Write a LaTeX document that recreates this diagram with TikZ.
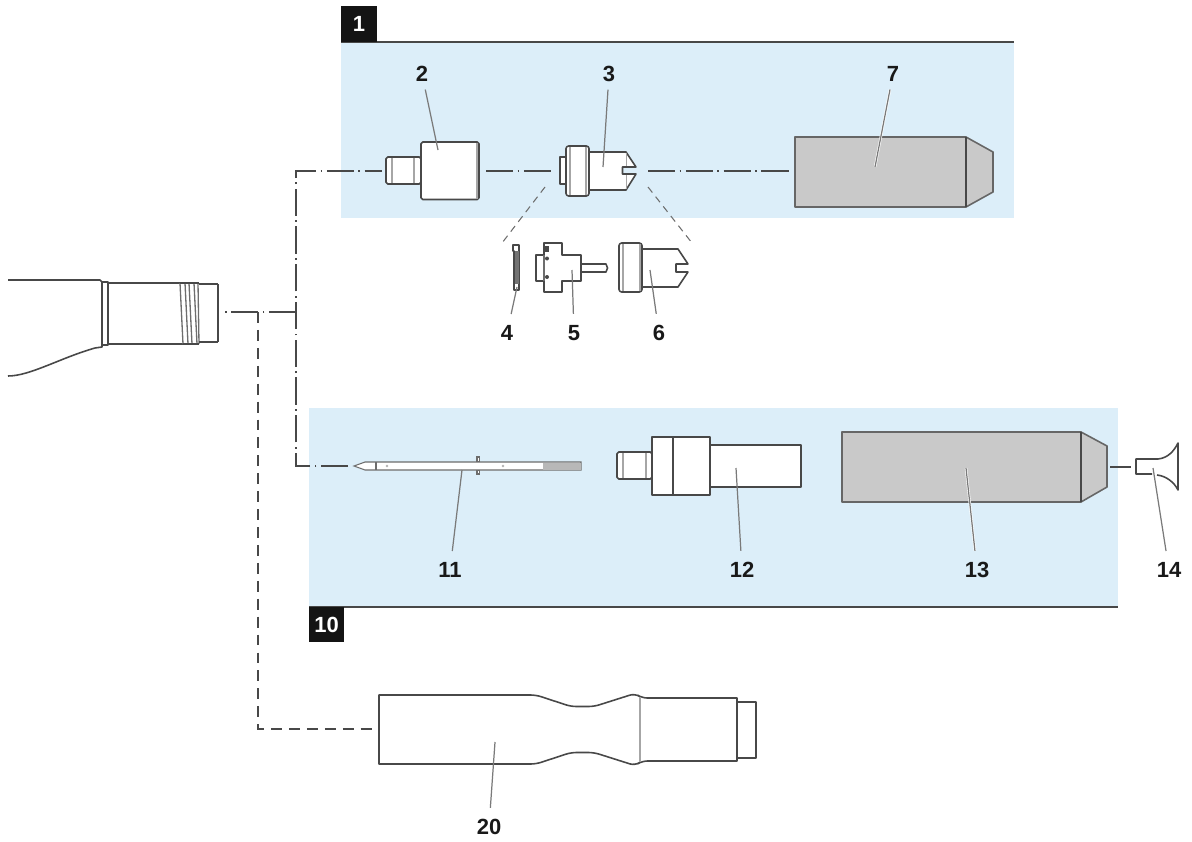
\documentclass[tikz,border=0pt]{standalone}
\usepackage{fontspec}
\setmainfont{Liberation Sans}
\usetikzlibrary{calc,positioning}
\definecolor{panelblue}{HTML}{DCEEF9}
\definecolor{partgray}{HTML}{C9C9C9}
\definecolor{inkgray}{HTML}{484848}
\definecolor{leadgray}{HTML}{7A7A7A}
\tikzset{
	part/.style={draw=inkgray,line width=0.9pt,line join=round},
	grey part/.style={draw=black!60,line width=0.9pt,fill=partgray,line join=round},
	thin part/.style={draw=inkgray!80,line width=0.6pt},
	inner/.style={draw=black!35,line width=0.85pt},
	lab/.style={font=\fontsize{12.5}{14}\selectfont\bfseries,inner sep=1pt,outer sep=5.5pt,text=black!90},
	lab top/.style={lab,outer sep=3.5pt},
	tag/.style={fill=black!92,text=white,font=\fontsize{12.5}{14}\selectfont\bfseries,inner sep=0pt},
	axis/.style={draw=inkgray,line width=0.85pt,dash pattern=on 15.5pt off 2.5pt on 1pt off 2.5pt},
	hidden/.style={draw=inkgray,line width=0.85pt,dash pattern=on 6.2pt off 4pt},
	guide/.style={draw=inkgray!80,line width=0.6pt,dash pattern=on 4pt off 3pt},
	lead/.style={draw=leadgray,line width=0.7pt},
	lead halo/.style={lead,preaction={draw=white,line width=1.4pt}}
}
\begin{document}
\begin{tikzpicture}
	[x=0.02cm,y=-0.02cm]
	\useasboundingbox (0,0) rectangle (1192,841);
	% panels
	\fill[panelblue] (341,43) rectangle (1014,218);
	\fill[panelblue] (309,408) rectangle (1118,607);
	\draw[part] (341,42) -- (1014,42);
	\draw[part] (309,607) -- (1118,607);
	\node[tag,minimum width=36*0.02cm,minimum height=36*0.02cm] (t1) at (359,24) {\raisebox{-1pt}{1}};
	\node[tag,minimum width=35*0.02cm,minimum height=35*0.02cm] (t10) at (326.5,624.5) {\raisebox{-0.7pt}{10}};
	% free ends of the axis lines
	\coordinate (hp) at (225,312);
	\coordinate (j1) at (258,312);
	\coordinate (j2) at (258,729);
	\coordinate (j3) at (372,729);
	\coordinate (b1) at (296,312);
	\coordinate (b2) at (296,171);
	\coordinate (b3) at (382,171);
	\coordinate (b4) at (296,466);
	\coordinate (b5) at (348,466);
	\coordinate (m1) at (486,171);
	\coordinate (m2) at (551,171);
	\coordinate (m3) at (648,171);
	\coordinate (m4) at (790,171);
	\coordinate (n1) at (1110,467);
	\coordinate (n2) at (1131,467);
	\coordinate (g1) at (545,187);
	\coordinate (g2) at (502,243);
	\coordinate (g3) at (648,187);
	\coordinate (g4) at (692,243);
	\draw[axis] (b1) -- (hp);
	\draw[hidden] (j1) -- (j2) -- (j3);
	\draw[axis] (b5) -- (b4) -- (b2) -- (b3);
	\draw[axis] (m1) -- (m2);
	\draw[axis] (m3) -- (m4);
	\draw[part] (n1) -- (n2);
	\draw[guide] (g1) -- (g2);
	\draw[guide] (g3) -- (g4);
	% handpiece
	\draw[part] (8,280) -- (100,280) -- (102,282) -- (102,347) -- (95,348)
		.. controls (60,358) and (30,376) .. (8,376);
	\draw[part] (102,282) rectangle (108,345);
	\draw[part,line width=1.2pt] (108,283) -- (108,345);
	\draw[part] (108,283) -- (180,283);
	\draw[part] (108,344) -- (183,344);
	\foreach \x/\y in {180/183,185/188,189/192,194/197,198/199}
	{
		\draw[thin part,line width=0.75pt] (\x,283) -- (\y,344);
	}
	\draw[part] (180,283) -- (199,283);
	\draw[part] (183,344) -- (199,344);
	\draw[part] (199,284) -- (218,284);
	\draw[part] (199,342) -- (218,342);
	\draw[part,line width=1.3pt] (218,284) -- (218,342);
	% part 2
	\draw[part,fill=white,rounded corners=1pt] (386,157) rectangle (421,184);
	\draw[inner] (392,158) -- (392,183);
	\draw[inner] (414,158) -- (414,183);
	\draw[part,fill=white,rounded corners=1pt] (421,142) rectangle (479,199.5);
	\draw[inner] (477,143) -- (477,199);
	% part 3
	\draw[part,fill=white] (560,157) rectangle (566,184);
	\draw[part,fill=white] (589,152) -- (626,152) -- (636,167) -- (622.5,167) -- (622.5,174) -- (636,174) -- (626,190) -- (589,190) -- cycle;
	\draw[part,fill=white,rounded corners=1.5pt] (566,146) rectangle (589,196);
	\draw[inner] (570,147) -- (570,195);
	\draw[inner] (586,147) -- (586,195);
	\draw[inner,line width=0.5pt] (626,153) -- (626,166);
	\draw[inner,line width=0.5pt] (626,175) -- (626,189);
	% part 4
	\draw[part,fill=white] (513,245) -- (519,245) -- (519,290) -- (514,290) -- (514,251) -- (513,251) -- cycle;
	\fill[black!55] (514.5,251) rectangle (518.5,284);
	% part 5
	\draw[part,fill=white] (544,243) -- (562,243) -- (562,255) -- (581,255) -- (581,281) -- (562,281) -- (562,292) -- (544,292) -- (544,281) -- (536,281) -- (536,255) -- (544,255) -- cycle;
	\draw[part,fill=white] (581,264) -- (606,264) -- (607.5,268) -- (606,272) -- (581,272) -- cycle;
	\draw[thin part] (544,255) -- (544,281);
	\fill[inkgray] (544.5,246) rectangle (549,252);
	\fill[inkgray] (547,258.5) circle (2);
	\fill[inkgray] (547,277) circle (2);
	% part 6
	\draw[part,fill=white] (642,249) -- (678,249) -- (688,264) -- (676,264) -- (676,272) -- (688,272) -- (678,287) -- (642,287) -- cycle;
	\draw[part,fill=white,rounded corners=1.5pt] (619,243) rectangle (642,292);
	\draw[inner] (623,244) -- (623,291);
	\draw[inner] (640,244) -- (640,291);
	% part 7
	\draw[grey part] (795,137) rectangle (966,207);
	\draw[grey part] (966,137) -- (993,152) -- (993,192) -- (966,207) -- cycle;
	\draw[part] (966,137) -- (966,207);
	% part 11
	\draw[thin part,fill=white] (354,466) -- (365,462) -- (581,462) -- (581,470) -- (365,470) -- cycle;
	\fill[black!28] (543,462.5) rectangle (580.5,469.5);
	\draw[thin part] (376,462) -- (376,470);
	\draw[thin part,fill=white] (477,457) rectangle (479.5,461.5);
	\draw[thin part,fill=white] (477,470.5) rectangle (479.5,474);
	\fill[black!30] (387,466) circle (1.3);
	\fill[black!30] (503,466) circle (1.3);
	% part 12
	\draw[part,fill=white,rounded corners=1pt] (617,452) rectangle (652,479);
	\draw[inner] (623,453) -- (623,478);
	\draw[inner] (646,453) -- (646,478);
	\draw[part,fill=white] (710,445) rectangle (801,487);
	\draw[part,fill=white] (652,437) rectangle (710,495);
	\draw[part] (673,437) -- (673,495);
	% part 13
	\draw[grey part] (842,432) rectangle (1081,502);
	\draw[grey part] (1081,432) -- (1107,446) -- (1107,487) -- (1081,502) -- cycle;
	\draw[part] (1081,432) -- (1081,502);
	% part 14
	\draw[part] (1152,474) -- (1136,474) -- (1136,459) -- (1158,459)
		.. controls (1168,458) and (1174,451) .. (1178,443) -- (1178,490)
		.. controls (1174,482) and (1166,476) .. (1157,475);
	% part 20
	\draw[part] (379,695) [rounded corners=3pt] -- (536,695) -- (571,706.5) -- (594,706.5)
		-- (635,693.5) -- (642,698) [sharp corners] -- (737,698) -- (737,761) [rounded corners=3pt] -- (642,761)
		-- (635,765.5) -- (594,752.5) -- (571,752.5) -- (536,764) [sharp corners] -- (379,764) -- cycle;
	\draw[inner] (640,697) -- (640,762);
	\draw[part] (737,702) -- (756,702) -- (756,758) -- (737,758);
	% labels and where their leaders end
	\node[lab top] (l2) at (422,74) {2};
	\node[lab top] (l3) at (609,74) {3};
	\node[lab top] (l7) at (893,74) {7};
	\node[lab] (l4) at (507,333) {4};
	\node[lab] (l5) at (574,333) {5};
	\node[lab] (l6) at (659,333) {6};
	\node[lab] (l11) at (450,570) {11};
	\node[lab] (l12) at (742,570) {12};
	\node[lab] (l13) at (977,570) {13};
	\node[lab] (l14) at (1169,570) {14};
	\node[lab] (l20) at (489,827) {20};
	\coordinate (c2) at (438,150);
	\coordinate (c3) at (603,167);
	\coordinate (c7) at (875,167);
	\coordinate (c4) at (517,287);
	\coordinate (c5) at (572,270);
	\coordinate (c6) at (650,270);
	\coordinate (c11) at (462,470);
	\coordinate (c12) at (736,468);
	\coordinate (c13) at (966,468);
	\coordinate (c14) at (1153,468);
	\coordinate (c20) at (495,742);
	\path
	\foreach \startNode/\endNode in {l2/c2,l3/c3,l4/c4,l5/c5,l6/c6,l11/c11,l12/c12,l14/c14,l20/c20}
	{
		(\startNode) edge[lead] (\endNode)
	};
	\path
	\foreach \startNode/\endNode in {l7/c7,l13/c13}
	{
		(\startNode) edge[lead halo] (\endNode)
	};
\end{tikzpicture}
\end{document}
